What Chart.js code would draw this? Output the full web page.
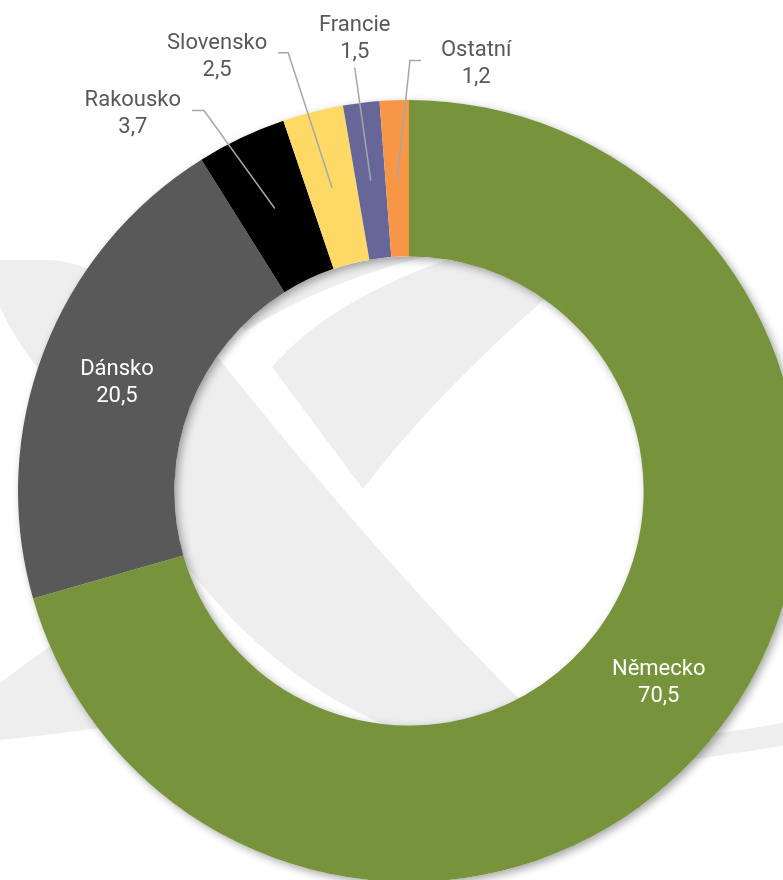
<!DOCTYPE html>
<html><head><meta charset="utf-8">
<script src="https://cdn.jsdelivr.net/npm/chart.js@4/dist/chart.umd.min.js"></script>
<style>
html,body{margin:0;padding:0;background:#fff;overflow:hidden}
#wrap{position:relative;width:783px;height:880px;overflow:hidden}
#c{position:absolute;left:0;top:0}
</style></head><body>
<div id="wrap"><canvas id="c" width="818" height="982"></canvas></div>
<script>
// ---- data ----
const categories = ['Německo','Dánsko','Rakousko','Slovensko','Francie','Ostatní'];
const shares = [70.5, 20.5, 3.7, 2.5, 1.5, 1.2];

// ---- styles ----
const sliceColors = ['#77933C','#595959','#000000','#FFD966','#666699','#F79646'];
const labelFont = '22px Roboto';
// label placement relative to slice anchor (mid-angle, mid-ring)
const labelPlacement = [
  {inside:true},
  {inside:true},
  {dx:-142, dy:-98,  side:'left',  gap:11, elbow:12},
  {dx:-115, dy:-135, side:'left',  gap:11, elbow:10},
  {dx:-16,  dy:-146, side:'below', gap:10},
  {dx:79,   dy:-118, side:'right', gap:20, elbow:11}
];
const fmt = v => v.toFixed(1).replace('.', ',');

const watermark = {
  id:'watermark',
  beforeDraw(chart){
    const ctx = chart.ctx; ctx.save();
    ctx.fillStyle = '#fff'; ctx.fillRect(0,0,chart.width,chart.height);
    ctx.fillStyle = '#EEEEEE';
    ctx.beginPath();
    ctx.moveTo(0,260); ctx.lineTo(45,260); ctx.quadraticCurveTo(80,260,105,280);
    ctx.lineTo(300,185); ctx.lineTo(830,185); ctx.lineTo(830,738);
    ctx.quadraticCurveTo(760,750,690,760);
    ctx.lineTo(600,800); ctx.lineTo(200,760); ctx.lineTo(100,728);
    ctx.quadraticCurveTo(40,736,0,740);
    ctx.lineTo(0,683);
    ctx.quadraticCurveTo(30,660,55,643);
    ctx.lineTo(157,569); ctx.lineTo(37,367);
    ctx.quadraticCurveTo(15,340,0,307);
    ctx.closePath(); ctx.fill();

    ctx.fillStyle = '#fff';
    ctx.beginPath();
    ctx.moveTo(237,320); ctx.lineTo(363,489);
    ctx.quadraticCurveTo(430,400,540,303);
    ctx.lineTo(640,215); ctx.lineTo(640,40); ctx.lineTo(830,40); ctx.lineTo(830,712);
    ctx.quadraticCurveTo(770,728,700,735);
    ctx.lineTo(620,740); ctx.lineTo(517,697);
    ctx.quadraticCurveTo(380,560,220,360);
    ctx.lineTo(190,330); ctx.closePath(); ctx.fill();

    ctx.beginPath();
    ctx.moveTo(212,355); ctx.quadraticCurveTo(300,285,452,250);
    ctx.lineTo(452,258); ctx.quadraticCurveTo(330,300,272,367);
    ctx.closePath(); ctx.fill();

    ctx.beginPath();
    ctx.moveTo(190,570); ctx.quadraticCurveTo(272,676,385,725);
    ctx.lineTo(390,780); ctx.lineTo(120,600);
    ctx.closePath(); ctx.fill();
    ctx.restore();
  }
};

const ringShadow = {
  id:'ringShadow',
  beforeDatasetsDraw(chart){
    const a = chart.getDatasetMeta(0).data[0];
    if(!a) return;
    const p = a.getProps(['x','y','innerRadius','outerRadius'], true);
    const ctx = chart.ctx; ctx.save();
    ctx.shadowColor = 'rgba(0,0,0,0.35)';
    ctx.shadowBlur = 8; ctx.shadowOffsetX = 3; ctx.shadowOffsetY = 3;
    ctx.beginPath();
    ctx.arc(p.x,p.y,p.outerRadius,0,Math.PI*2);
    ctx.arc(p.x,p.y,p.innerRadius,0,Math.PI*2,true);
    ctx.fillStyle = '#ffffff'; ctx.fill();
    ctx.restore();
  }
};

const sliceLabels = {
  id:'sliceLabels',
  afterDatasetsDraw(chart){
    const ctx = chart.ctx;
    const meta = chart.getDatasetMeta(0);
    ctx.save();
    ctx.font = labelFont; ctx.textAlign = 'center'; ctx.textBaseline = 'alphabetic';
    meta.data.forEach((arc, i) => {
      const p = arc.getProps(['x','y','startAngle','endAngle','innerRadius','outerRadius'], true);
      const mid = (p.startAngle + p.endAngle)/2;
      const r = (p.innerRadius + p.outerRadius)/2;
      const ax = p.x + Math.cos(mid)*r, ay = p.y + Math.sin(mid)*r;
      const l1 = categories[i], l2 = fmt(shares[i]);
      const pl = labelPlacement[i];
      let cx, cy;
      if (pl.inside){
        cx = ax; cy = ay; ctx.fillStyle = '#ffffff';
      } else {
        cx = ax + pl.dx; cy = ay + pl.dy;
        const w = Math.max(ctx.measureText(l1).width, ctx.measureText(l2).width);
        ctx.strokeStyle = '#A6A6A6'; ctx.lineWidth = 1.5;
        ctx.beginPath(); ctx.moveTo(ax, ay);
        if (pl.side === 'left'){
          const ex = cx + w/2 + pl.gap;
          ctx.lineTo(ex + pl.elbow, cy); ctx.lineTo(ex, cy);
        } else if (pl.side === 'right'){
          const ex = cx - w/2 - pl.gap;
          ctx.lineTo(ex - pl.elbow, cy); ctx.lineTo(ex, cy);
        } else {
          ctx.lineTo(cx, cy + 23 + pl.gap);
        }
        ctx.stroke();
        ctx.fillStyle = '#595959';
      }
      ctx.fillText(l1, cx, cy - 4);
      ctx.fillText(l2, cx, cy + 23);
    });
    ctx.restore();
  }
};

new Chart(document.getElementById('c'), {
  type:'doughnut',
  data:{ labels:categories, datasets:[{ data:shares, backgroundColor:sliceColors, borderWidth:0, hoverOffset:0 }] },
  options:{
    responsive:false, animation:false, cutout:'60%',
    layout:{ padding:{ left:18, right:18, top:100, bottom:100 } },
    plugins:{ legend:{display:false}, tooltip:{enabled:false} },
    events:[]
  },
  plugins:[watermark, ringShadow, sliceLabels]
});
</script>
</body></html>
